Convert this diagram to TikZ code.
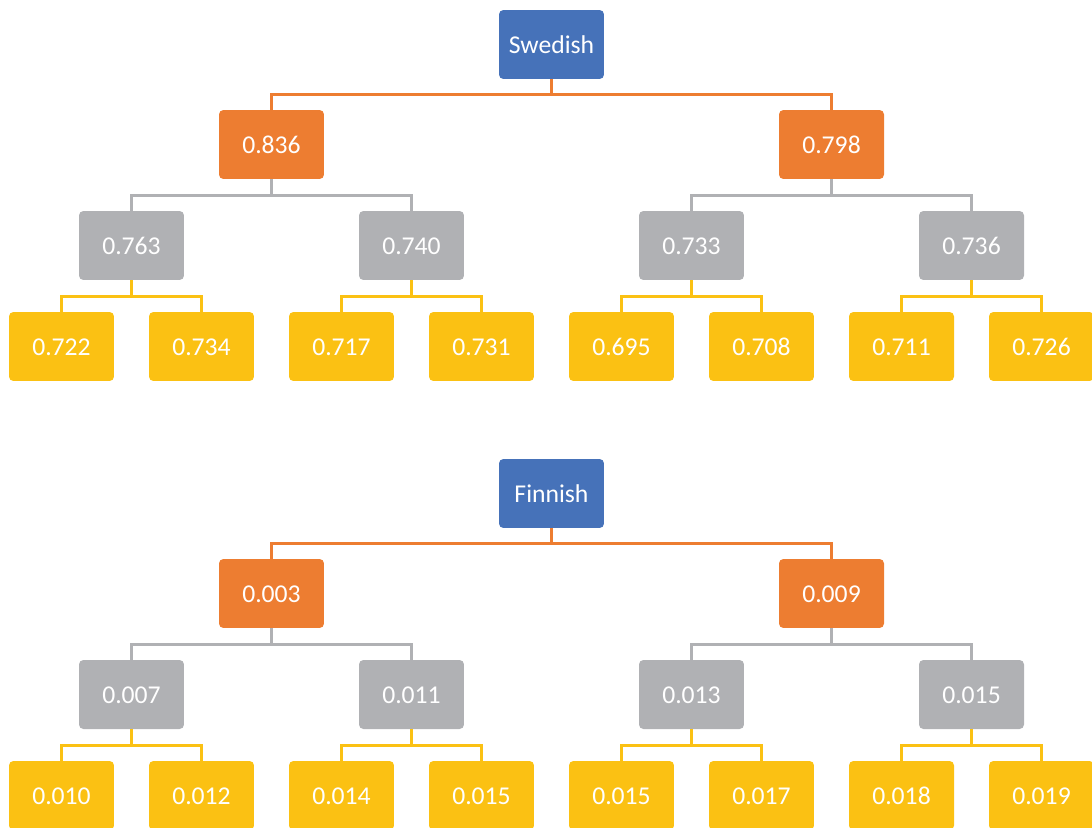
\documentclass[tikz,border=0pt]{standalone}
\usepackage{fontspec}
\setmainfont{Carlito}
\definecolor{rootblue}{HTML}{4672B9}
\definecolor{midorange}{HTML}{ED7D31}
\definecolor{midgrey}{HTML}{B0B1B4}
\definecolor{leafyellow}{HTML}{FBC113}
\tikzset{
  box/.style={rounded corners=2.5pt,minimum width=2.1cm,minimum height=1.38cm,
    inner sep=0pt,text height=2.3ex,text depth=0.2ex,
    text=white,font=\fontsize{14.6}{17}\selectfont},
  rootbox/.style={box,fill=rootblue},
  orangebox/.style={box,fill=midorange},
  greybox/.style={box,fill=midgrey},
  leafbox/.style={box,fill=leafyellow},
  link/.style={line width=1.6pt},
}
\begin{document}
\begin{tikzpicture}[x=0.02cm,y=-0.02cm]
\useasboundingbox (0,0) rectangle (1092,828);
% Swedish tree
\node[rootbox] (s) at (551.5,44.5) {Swedish};
\foreach \v [count=\i] in {0.836,0.798}
  \node[orangebox] (sa\i) at (271.5+560*\i-560,144.5) {\v};
\foreach \v [count=\i] in {0.763,0.740,0.733,0.736}
  \node[greybox] (sb\i) at (131.5+280*\i-280,245.5) {\v};
\foreach \v [count=\i] in {0.722,0.734,0.717,0.731,0.695,0.708,0.711,0.726}
  \node[leafbox] (sc\i) at (61.5+140*\i-140,346.5) {\v};
\foreach \i in {1,2}
  \draw[link,midorange] (s.south) -- ++(0,15.5) -| (sa\i.north);
\foreach \i/\p in {1/1,2/1,3/2,4/2}
  \draw[link,midgrey] (sa\p.south) -- ++(0,16) -| (sb\i.north);
\foreach \i/\p in {1/1,2/1,3/2,4/2,5/3,6/3,7/4,8/4}
  \draw[link,leafyellow] (sb\p.south) -- ++(0,16) -| (sc\i.north);
% Finnish tree
\node[rootbox] (f) at (551.5,493.5) {Finnish};
\foreach \v [count=\i] in {0.003,0.009}
  \node[orangebox] (fa\i) at (271.5+560*\i-560,593.5) {\v};
\foreach \v [count=\i] in {0.007,0.011,0.013,0.015}
  \node[greybox] (fb\i) at (131.5+280*\i-280,694.5) {\v};
\foreach \v [count=\i] in {0.010,0.012,0.014,0.015,0.015,0.017,0.018,0.019}
  \node[leafbox] (fc\i) at (61.5+140*\i-140,795.5) {\v};
\foreach \i in {1,2}
  \draw[link,midorange] (f.south) -- ++(0,15.5) -| (fa\i.north);
\foreach \i/\p in {1/1,2/1,3/2,4/2}
  \draw[link,midgrey] (fa\p.south) -- ++(0,16) -| (fb\i.north);
\foreach \i/\p in {1/1,2/1,3/2,4/2,5/3,6/3,7/4,8/4}
  \draw[link,leafyellow] (fb\p.south) -- ++(0,16) -| (fc\i.north);
\end{tikzpicture}
\end{document}
